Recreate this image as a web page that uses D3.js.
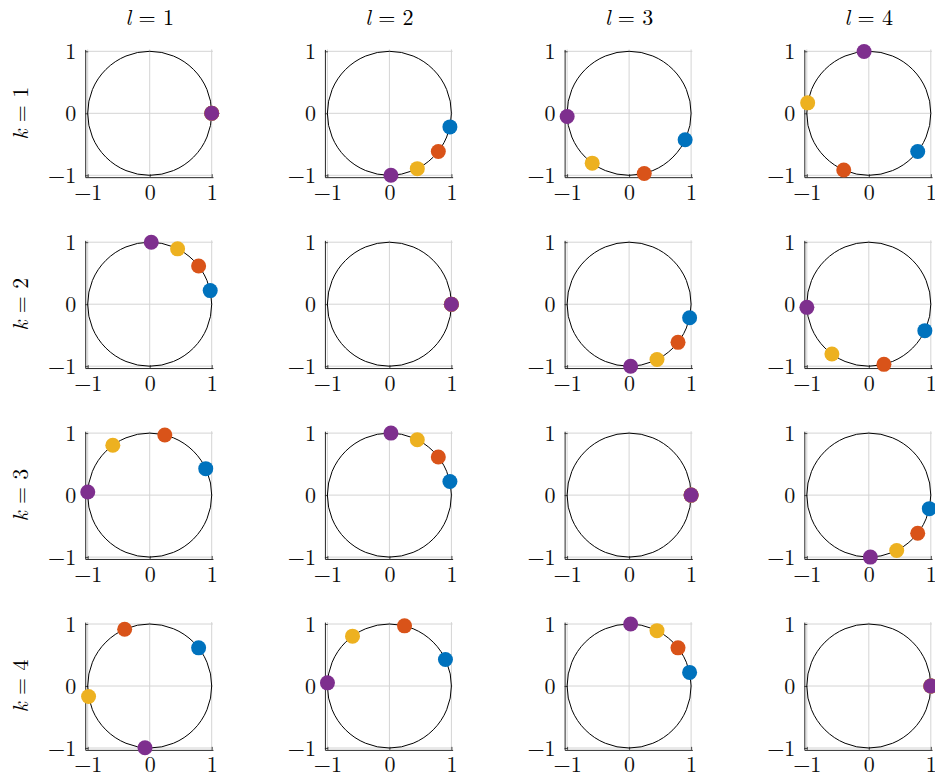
<!DOCTYPE html>
<html>
<head>
<meta charset="utf-8">
<script src="https://cdn.jsdelivr.net/npm/d3@7"></script>
<style>
  html, body { margin: 0; padding: 0; background: #fff; }
  svg { display: block; }
  text { font-family: "Latin Modern Roman", "Liberation Serif", serif; }
</style>
</head>
<body>
<svg id="chart" width="935" height="778"></svg>
<script>
// Row (k) and column (l) indices of the grid of panels
const kValues = [1, 2, 3, 4];
const lValues = [1, 2, 3, 4];
const tickValues = [-1, 0, 1];

// Series colours, drawn in this order (purple ends up on top)
const seriesColors = ["#0072BD", "#D95319", "#EDB120", "#7E2F8E"];

// Points on the unit circle, [re, im], indexed [k-1][l-1]
const blue = [
  [[1, 0], [0.976, -0.219], [0.904, -0.427], [0.789, -0.615]],
  [[0.976, 0.219], [1, 0], [0.976, -0.219], [0.904, -0.427]],
  [[0.904, 0.427], [0.976, 0.219], [1, 0], [0.976, -0.219]],
  [[0.789, 0.615], [0.904, 0.427], [0.976, 0.219], [1, 0]]
];
const orange = [
  [[1, 0], [0.789, -0.615], [0.244, -0.970], [-0.404, -0.915]],
  [[0.789, 0.615], [1, 0], [0.789, -0.615], [0.244, -0.970]],
  [[0.244, 0.970], [0.789, 0.615], [1, 0], [0.789, -0.615]],
  [[-0.404, 0.915], [0.244, 0.970], [0.789, 0.615], [1, 0]]
];
const yellow = [
  [[1, 0], [0.450, -0.893], [-0.595, -0.804], [-0.986, 0.169]],
  [[0.450, 0.893], [1, 0], [0.450, -0.893], [-0.595, -0.804]],
  [[-0.595, 0.804], [0.450, 0.893], [1, 0], [0.450, -0.893]],
  [[-0.986, -0.169], [-0.595, 0.804], [0.450, 0.893], [1, 0]]
];
const purple = [
  [[1, 0], [0.025, -1.000], [-0.999, -0.051], [-0.076, 0.997]],
  [[0.025, 1.000], [1, 0], [0.025, -1.000], [-0.999, -0.051]],
  [[-0.999, 0.051], [0.025, 1.000], [1, 0], [0.025, -1.000]],
  [[-0.076, -0.997], [-0.999, 0.051], [0.025, 1.000], [1, 0]]
];
const series = [blue, orange, yellow, purple];

// Layout
const unit = 62;                 // pixels per data unit
const xDomain = [-1.04, 1.02];
const yDomain = [-1.03, 1.03];
const originX0 = 149.7, colStep = 239.7;
const originY0 = 113.3, rowStep = 190.9;
const fontSize = 22;
const fontFamily = '"Latin Modern Roman", "Liberation Serif", serif';
const tickFmt = d3.format("d");

const svg = d3.select("#chart");

kValues.forEach((k, r) => {
  lValues.forEach((l, c) => {
    const ox = originX0 + c * colStep;
    const oy = originY0 + r * rowStep;
    const left = ox + xDomain[0] * unit;
    const top = oy - yDomain[1] * unit;
    const w = (xDomain[1] - xDomain[0]) * unit;
    const h = (yDomain[1] - yDomain[0]) * unit;

    const x = d3.scaleLinear().domain(xDomain).range([0, w]);
    const y = d3.scaleLinear().domain(yDomain).range([h, 0]);

    const g = svg.append("g").attr("transform", `translate(${left},${top})`);

    // grid
    const grid = g.append("g").attr("stroke", "#d4d4d4").attr("stroke-width", 1);
    grid.selectAll("line.v").data(tickValues).join("line")
      .attr("class", "v")
      .attr("x1", d => x(d)).attr("x2", d => x(d))
      .attr("y1", 0).attr("y2", h);
    grid.selectAll("line.h").data(tickValues).join("line")
      .attr("class", "h")
      .attr("y1", d => y(d)).attr("y2", d => y(d))
      .attr("x1", 0).attr("x2", w);

    // axes
    const xAxis = d3.axisBottom(x).tickValues(tickValues).tickFormat(tickFmt)
      .tickSizeInner(-3).tickSizeOuter(0).tickPadding(7);
    const yAxis = d3.axisLeft(y).tickValues(tickValues).tickFormat(tickFmt)
      .tickSizeInner(-3).tickSizeOuter(0).tickPadding(9);

    const gx = g.append("g").attr("transform", `translate(0,${h})`).call(xAxis);
    const gy = g.append("g").call(yAxis);
    [gx, gy].forEach(a => {
      a.attr("font-size", fontSize).attr("font-family", fontFamily);
      a.selectAll("path.domain").attr("stroke", "#262626").attr("stroke-width", 1);
      a.selectAll(".tick line").attr("stroke", "#262626").attr("stroke-width", 0.8);
      a.selectAll(".tick text").attr("fill", "#111");
    });

    // unit circle
    g.append("circle")
      .attr("cx", x(0)).attr("cy", y(0))
      .attr("r", x(1) - x(0))
      .attr("fill", "none")
      .attr("stroke", "#000")
      .attr("stroke-width", 1);

    // points
    series.forEach((s, i) => {
      const p = s[r][c];
      g.append("circle")
        .attr("cx", x(p[0])).attr("cy", y(p[1]))
        .attr("r", 7.5)
        .attr("fill", seriesColors[i]);
    });
  });
});

// column titles: l = 1 ... l = 4
lValues.forEach((l, c) => {
  const t = svg.append("text")
    .attr("x", originX0 + c * colStep)
    .attr("y", 25)
    .attr("text-anchor", "middle")
    .attr("font-size", fontSize)
    .attr("font-family", fontFamily);
  t.append("tspan").attr("font-style", "italic").text("l");
  t.append("tspan").text(" = " + l);
});

// row titles: k = 1 ... k = 4
kValues.forEach((k, r) => {
  const t = svg.append("text")
    .attr("transform", `translate(28,${originY0 + r * rowStep}) rotate(-90)`)
    .attr("text-anchor", "middle")
    .attr("font-size", fontSize)
    .attr("font-family", fontFamily);
  t.append("tspan").attr("font-style", "italic").text("k");
  t.append("tspan").text(" = " + k);
});
</script>
</body>
</html>
